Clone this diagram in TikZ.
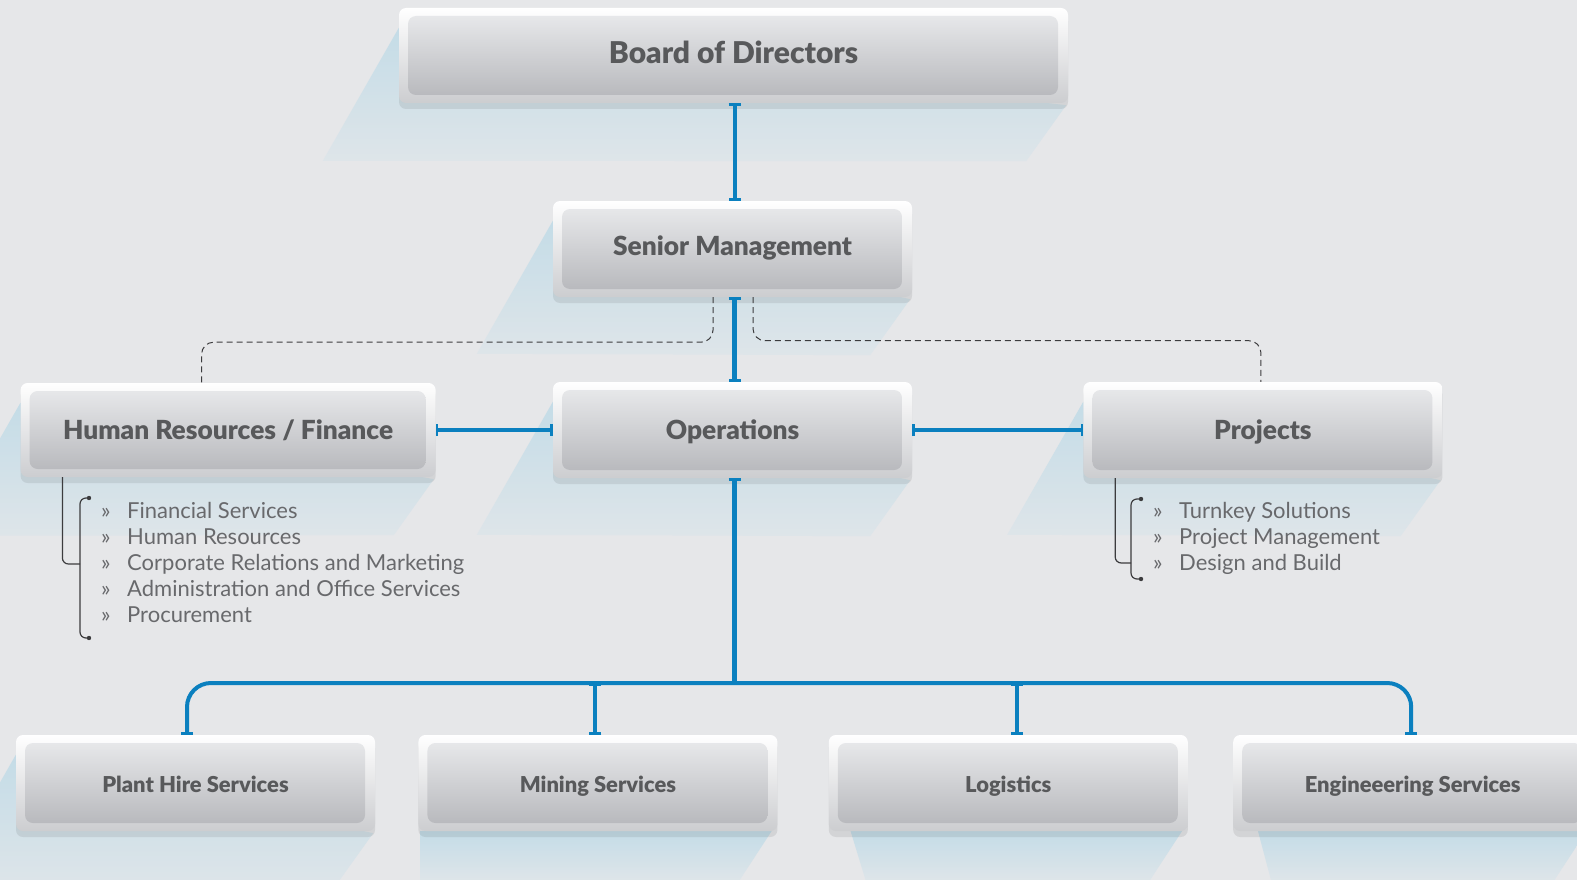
\documentclass[tikz,border=0pt]{standalone}
\usepackage{fontspec}
\setmainfont{Lato}
\newfontfamily\heavyfont{Lato Black}
\usepackage{tikz}
\usetikzlibrary{positioning, arrows.meta, backgrounds, shadows, calc}

\definecolor{bgcol}{RGB}{230,231,233}
\definecolor{linkblue}{RGB}{11,128,191}
\definecolor{framebot}{RGB}{204,205,208}
\definecolor{innertop}{RGB}{235,236,238}
\definecolor{innerbot}{RGB}{180,181,185}
\definecolor{titlegray}{RGB}{88,89,91}
\definecolor{listgray}{RGB}{104,105,108}
\definecolor{bracegray}{RGB}{60,60,62}
\definecolor{castblue}{RGB}{196,220,231}
\definecolor{castfade}{RGB}{222,229,233}

% long light-blue cast behind a unit (middle rows)
\newcommand{\castshade}[1]{%
  \shade[top color=castblue, bottom color=castfade]
    ([shift={(0,20)}]#1.north west) -- ++(-76,133)
    -- ([shift={(-42,58)}]#1.south east) -- ([shift={(-2,2)}]#1.south east) -- cycle;}
% cast below a unit of the bottom row
\newcommand{\dropshade}[3]{%
  \shade[top color=castblue, bottom color=castfade]
    ([xshift=#2]#1.south west) -- ([shift={(#3,49)}]#1.south west)
    -- ([shift={(-38,49)}]#1.south east) -- ([xshift=-6]#1.south east) -- cycle;}

\begin{document}
\begin{tikzpicture}[
            x=1pt, y=-1pt,
            >={Bar[width=12pt, line width=2.5pt]},
            % Styles of the chart
            unit/.style={rectangle, rounded corners=7pt, minimum width=359pt,
                    minimum height=96pt, inner sep=0pt, align=center,
                    text height=18.8pt, text depth=0pt,
                    top color=white, bottom color=framebot, text=titlegray,
                    font=\heavyfont\fontsize{26.3pt}{30pt}\selectfont,
                    drop shadow={fill=black, opacity=0.08, shadow xshift=0pt, shadow yshift=-6pt},
                    path picture={\shade[top color=innertop, bottom color=innerbot, rounded corners=8pt]
                        ([shift={(9,8)}]path picture bounding box.north west) rectangle
                        ([shift={(-10,-8)}]path picture bounding box.south east);}},
            apex/.style={minimum width=669pt, minimum height=95pt,
                    text height=21.5pt, text depth=6pt,
                    font=\heavyfont\fontsize{30pt}{34pt}\selectfont},
            lower/.style={text height=19.7pt, text depth=0pt,
                    font=\heavyfont\fontsize{21.9pt}{26pt}\selectfont},
            item/.style={anchor=base west, inner sep=0pt, text=listgray,
                    font=\fontsize{22pt}{26pt}\selectfont},
            link/.style={<->, draw=linkblue, line width=4pt},
            dashline/.style={draw=bracegray, line width=1pt, dash pattern=on 6pt off 4pt,
                    rounded corners=12pt},
            brace/.style={draw=bracegray, line width=1.2pt, rounded corners=6pt},
            ]
            \useasboundingbox (0,0) rectangle (1577,880);

            % === TOP ===
            \node[unit, apex] (board) at (733.5,55.5) {Board of Directors};
            \node[unit, text depth=5pt] (senior) at (732.5,249) {Senior Management};

            % === MIDDLE ROW ===
            \node[unit] (ops) at (732.5,430) {Operations};
            \node[unit, minimum width=415pt, minimum height=94pt, left=117pt of ops] (hr) {Human Resources / Finance};
            \node[unit, right=171pt of ops] (proj) {Projects};

            % === BOTTOM ROW ===
            \node[unit, lower] (plant) at (195.5,783) {Plant Hire Services};
            \node[unit, lower, right=43pt of plant] (mining) {Mining Services};
            \node[unit, lower, right=51pt of mining] (logistics) {Logistics};
            \node[unit, lower, right=45pt of logistics] (eng) {Engineeering Services};

            % === LISTS ===
            \foreach \txt [count=\i] in {Financial Services, Human Resources,
                    Corporate Relations and Marketing, Administration and Office Services, Procurement}
                \node[item] (hr\i) at (101,{518+26*(\i-1)}) {\makebox[26pt][l]{»}\txt};
            \foreach \txt [count=\i] in {Turnkey Solutions, Project Management, Design and Build}
                \node[item] (pj\i) at (1153,{518+26*(\i-1)}) {\makebox[26pt][l]{»}\txt};

            % brackets
            \coordinate (hrjoin) at (80,564);
            \draw[brace] ([xshift=42]hr.south west) |- (hrjoin);
            \draw[brace] ([shift={(-12,-20)}]hr1.base west) -| ([shift={(-21,16)}]hr5.base west)
                -- ([shift={(-12,16)}]hr5.base west);
            \fill[bracegray] ([shift={(-12,-20)}]hr1.base west) circle (2.2pt)
                ([shift={(-12,16)}]hr5.base west) circle (2.2pt);

            \coordinate (pjjoin) at (1131,563);
            \draw[brace] ([xshift=32]proj.south west) |- (pjjoin);
            \draw[brace] ([shift={(-12,-19)}]pj1.base west) -| ([shift={(-22,9)}]pj3.base west)
                -- ([shift={(-12,9)}]pj3.base west);
            \fill[bracegray] ([shift={(-12,-19)}]pj1.base west) circle (2.2pt)
                ([shift={(-12,9)}]pj3.base west) circle (2.2pt);

            % === CONNECTIONS ===
            \draw[link] ([xshift=1]board.south) -- ([xshift=1]board.south |- senior.north);
            \draw[link, line width=5.5pt] ([xshift=2]senior.south) -- ([xshift=2]ops.north);
            \draw[link] (hr.east) -- (ops.west);
            \draw[link] (ops.east) -- (proj.west);

            % dotted reporting lines
            \draw[dashline] ([xshift=-19.5]senior.south) -- ++(0,45) -| ([xshift=-26.5]hr.north);
            \draw[dashline] ([xshift=20.5]senior.south) -- ++(0,43.5) -| ([xshift=-2]proj.north);

            % bus to the bottom row
            \coordinate (bus) at (734.5,683);
            \draw[link, line width=5.5pt, <-] ([xshift=2]ops.south) -- (bus);
            \draw[link, rounded corners=24pt] ([xshift=-8.5]plant.north) |- (bus) -| ([xshift=-1.5]eng.north);
            \draw[link] ([xshift=-2.5]mining.north |- bus) -- ([xshift=-2.5]mining.north);
            \draw[link] ([xshift=8.5]logistics.north |- bus) -- ([xshift=8.5]logistics.north);

            % === BACKGROUND ===
            \begin{scope}[on background layer]
                \fill[bgcol] (0,0) rectangle (1577,880);
                \castshade{board}
                \castshade{senior}
                \castshade{hr}
                \castshade{ops}
                \castshade{proj}
                \castshade{plant}
                \dropshade{mining}{2}{2}
                \dropshade{logistics}{22}{37}
                \dropshade{eng}{25}{38}
            \end{scope}

        \end{tikzpicture}
\end{document}
